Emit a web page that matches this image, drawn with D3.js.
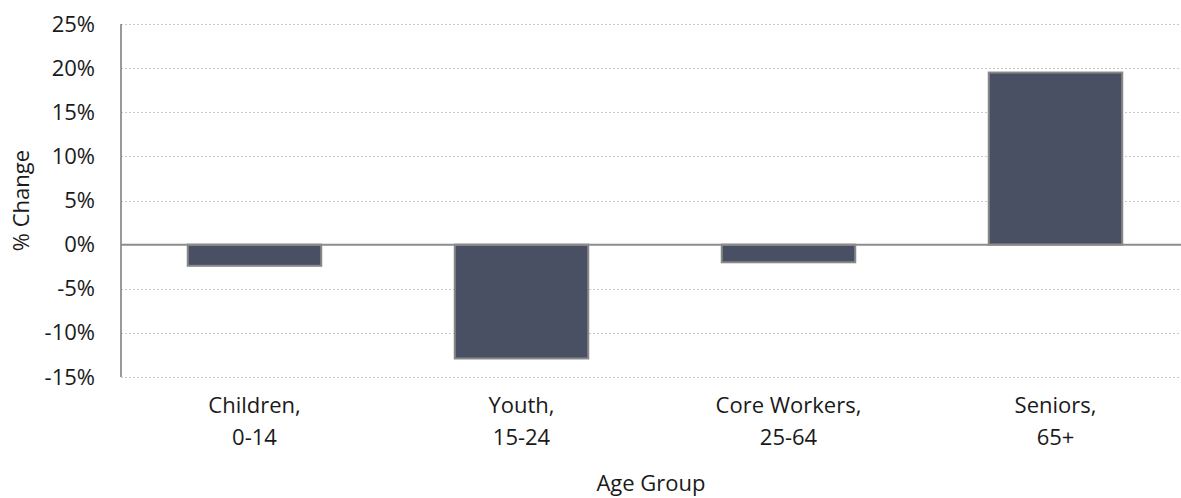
<!DOCTYPE html>
<html><head><meta charset="utf-8">
<script src="https://cdn.jsdelivr.net/npm/d3@7"></script>
<style>
html,body{margin:0;padding:0;background:#fff;overflow:hidden;}
text{font-family:"Open Sans","Noto Sans",sans-serif;fill:#1a1a1a;}
</style></head>
<body><svg id="c" width="1181" height="498"></svg>
<script>
const categories = [["Children,","0-14"],["Youth,","15-24"],["Core Workers,","25-64"],["Seniors,","65+"]];
const values = [-2.4, -12.9, -2.0, 19.5];
const yTicks = [-15,-10,-5,0,5,10,15,20,25];
const yTitle = "% Change";
const xTitle = "Age Group";

const svg = d3.select("#c");
const mLeft = 121, mRight = 1189, mTop = 24, mBottom = 377;
const fs = 22;

const x = d3.scaleBand().domain(categories.map((d,i)=>i)).range([mLeft,mRight]).paddingInner(0.5).paddingOuter(0.25);
const y = d3.scaleLinear().domain([-15,25]).range([mBottom,mTop]);

// grid
svg.append("g").selectAll("line").data(yTicks.filter(t=>t!==0)).join("line")
  .attr("x1",mLeft).attr("x2",mRight)
  .attr("y1",d=>Math.round(y(d))+0.5).attr("y2",d=>Math.round(y(d))+0.5)
  .attr("stroke","#c8c8c8").attr("stroke-width",1).attr("stroke-dasharray","2,2");

// y axis
const yAxis = d3.axisLeft(y).tickValues(yTicks).tickFormat(d=>d+"%").tickSize(0).tickPadding(26);
const gy = svg.append("g").attr("transform",`translate(${mLeft},0)`).call(yAxis);
gy.select(".domain").remove();
gy.selectAll("text").style("font-size",fs+"px").attr("fill","#1a1a1a").style("font-family",'"Open Sans","Noto Sans",sans-serif');
svg.append("line").attr("x1",mLeft).attr("x2",mLeft).attr("y1",mTop).attr("y2",mBottom)
  .attr("stroke","#999").attr("stroke-width",2);

// bars
svg.append("g").selectAll("rect").data(values).join("rect")
  .attr("x",(d,i)=>x(i)).attr("width",x.bandwidth())
  .attr("y",d=>y(Math.max(0,d))).attr("height",d=>Math.abs(y(d)-y(0)))
  .attr("fill","#4a5063").attr("stroke","#888").attr("stroke-width",2);

// zero line
svg.append("line").attr("x1",mLeft).attr("x2",mRight).attr("y1",y(0)).attr("y2",y(0))
  .attr("stroke","#8c8c8c").attr("stroke-width",2);

// x labels
const xAxis = d3.axisBottom(x).tickSize(0).tickFormat("");
const gx = svg.append("g").attr("transform",`translate(0,${mBottom})`).call(xAxis);
gx.select(".domain").remove();
gx.selectAll(".tick").each(function(d){
  const t = d3.select(this).append("text").attr("text-anchor","middle").style("font-size",fs+"px").attr("fill","#1a1a1a");
  t.append("tspan").attr("x",0).attr("y",36).text(categories[d][0]);
  t.append("tspan").attr("x",0).attr("y",68).text(categories[d][1]);
});

// titles
svg.append("text").attr("transform",`translate(29,${(mTop+mBottom)/2}) rotate(-90)`)
  .attr("text-anchor","middle").style("font-size",fs+"px").text(yTitle);
svg.append("text").attr("x",(121+1181)/2).attr("y",491)
  .attr("text-anchor","middle").style("font-size",fs+"px").text(xTitle);
</script></body></html>
